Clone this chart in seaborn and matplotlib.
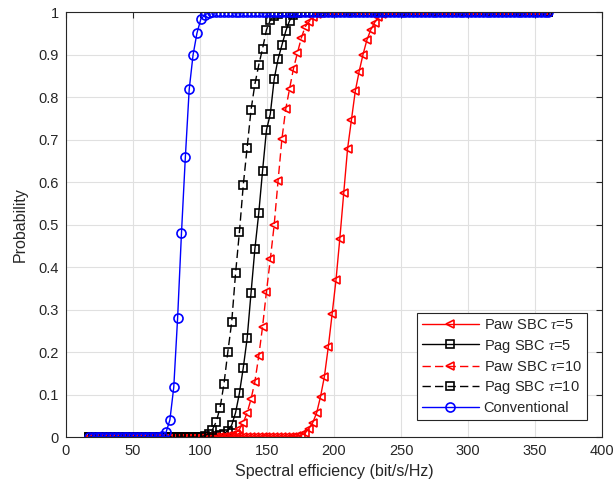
import numpy as np
import pandas as pd
import matplotlib
matplotlib.use("Agg")
import matplotlib.pyplot as plt
import seaborn as sns
from matplotlib.ticker import FuncFormatter

# ---------------- data ----------------
x_start, x_stop, n_points = 17, 360, 120
spectral_eff = np.linspace(x_start, x_stop, n_points)

paw_tau5 = ([0.0] * 53 +
            [0.001, 0.002, 0.004, 0.009, 0.02, 0.034, 0.057, 0.095, 0.142,
             0.211, 0.289, 0.369, 0.467, 0.573, 0.678, 0.746, 0.814, 0.86,
             0.9, 0.934, 0.958, 0.975, 0.988, 0.995, 0.999] +
            [1.0] * 42)

pag_tau5 = ([0.0] * 32 +
            [0.001, 0.002, 0.004, 0.008, 0.015, 0.028, 0.057, 0.103, 0.163,
             0.232, 0.338, 0.442, 0.526, 0.627, 0.722, 0.76, 0.842, 0.889,
             0.922, 0.955, 0.98, 0.992, 0.998] +
            [1.0] * 65)

paw_tau10 = ([0.0] * 36 +
             [0.002, 0.004, 0.008, 0.018, 0.034, 0.057, 0.089, 0.13, 0.19,
              0.26, 0.342, 0.418, 0.499, 0.602, 0.701, 0.772, 0.82, 0.867,
              0.903, 0.938, 0.965, 0.977, 0.988, 0.995, 0.998] +
             [1.0] * 59)

pag_tau10 = ([0.0] * 29 +
             [0.001, 0.003, 0.008, 0.017, 0.036, 0.069, 0.125, 0.2, 0.27,
              0.385, 0.482, 0.593, 0.681, 0.769, 0.83, 0.875, 0.914, 0.958,
              0.981, 0.99, 0.996, 0.999] +
             [1.0] * 69)

conventional = ([0.0] * 19 +
                [0.002, 0.011, 0.04, 0.117, 0.28, 0.48, 0.658, 0.818, 0.899,
                 0.95, 0.983, 0.993, 0.998] +
                [1.0] * 88)

labels = [r'Paw SBC $\tau$=5', r'Pag SBC $\tau$=5', r'Paw SBC $\tau$=10',
          r'Pag SBC $\tau$=10', 'Conventional']
series = [paw_tau5, pag_tau5, paw_tau10, pag_tau10, conventional]

x_ticks = [0, 50, 100, 150, 200, 250, 300, 350, 400]
y_ticks = [0, 0.1, 0.2, 0.3, 0.4, 0.5, 0.6, 0.7, 0.8, 0.9, 1.0]

# ---------------- styling ----------------
sns.set_style("white")
plt.rcParams['font.family'] = ['Liberation Sans', 'DejaVu Sans']
plt.rcParams['mathtext.fontset'] = 'custom'
plt.rcParams['mathtext.it'] = 'Liberation Serif:italic'
plt.rcParams['mathtext.rm'] = 'Liberation Sans'

colors = ['#ff0000', '#000000', '#ff0000', '#000000', '#0000ff']
markers = ['<', 's', '<', 's', 'o']
dash = (0, (6, 3))
linestyles = ['-', '-', dash, dash, '-']
msizes = [6, 5.5, 6, 5.5, 6.5]

fig = plt.figure(figsize=(6.16, 4.90), dpi=100)
ax = fig.add_axes([66 / 616, 1 - 437 / 490, 536 / 616, 425 / 490])

for y, lab, c, m, ls, ms in zip(series, labels, colors, markers, linestyles, msizes):
    df = pd.DataFrame({'x': spectral_eff, 'p': y})
    sns.lineplot(data=df, x='x', y='p', ax=ax, color=c, marker=m,
                 linestyle=ls, linewidth=1.0, markersize=ms,
                 markerfacecolor='none', markeredgecolor=c,
                 markeredgewidth=1.2, label=lab, sort=False,
                 estimator=None)

ax.set_xlim(0, 400)
ax.set_ylim(0, 1)
ax.set_xticks(x_ticks)
ax.set_yticks(y_ticks)
ax.yaxis.set_major_formatter(FuncFormatter(lambda v, p: f"{v:g}"))
ax.grid(True, color='#e0e0e0', linewidth=0.8)
ax.set_axisbelow(True)
for s in ax.spines.values():
    s.set_color('#262626')
    s.set_linewidth(0.8)
ax.tick_params(axis='both', which='both', direction='in', top=True,
               right=True, length=4, width=0.8, color='#262626',
               labelsize=10.5, labelcolor='#262626', pad=5)
ax.set_xlabel('Spectral efficiency (bit/s/Hz)', fontsize=11.5,
              color='#262626', labelpad=4)
ax.set_ylabel('Probability', fontsize=11.5, color='#262626', labelpad=8)

leg = ax.legend(loc='lower right', bbox_to_anchor=(0.972, 0.04),
                borderaxespad=0.0,
                fontsize=10.5, handlelength=3.9, handletextpad=0.35,
                labelspacing=0.35, borderpad=0.35, frameon=True,
                fancybox=False, framealpha=1.0, edgecolor='#262626')
leg.get_frame().set_linewidth(0.8)

fig.savefig('out.png', dpi=100)
